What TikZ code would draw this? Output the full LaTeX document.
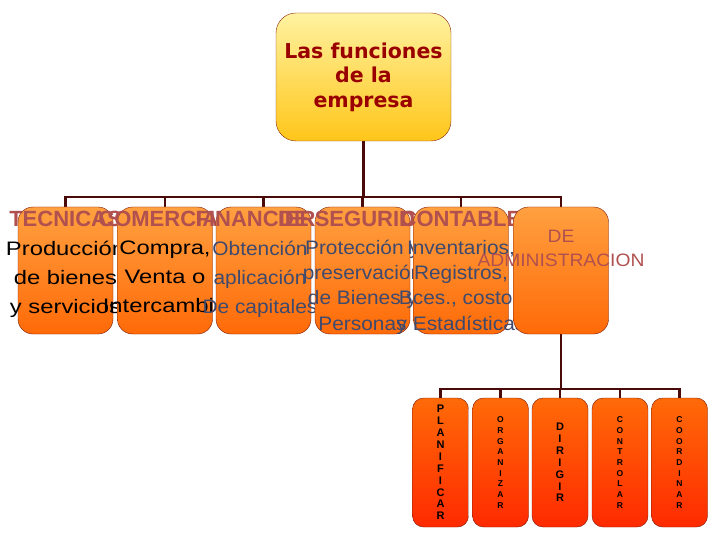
\documentclass[tikz,border=0pt]{standalone}
\usepackage{fontspec}
\setmainfont{Liberation Sans}
\setsansfont{Liberation Sans}
\newfontfamily\bodywide[FakeStretch=1.22]{Liberation Sans}
\newfontfamily\bodynarrow[FakeStretch=1.07]{Liberation Sans}
\newfontfamily\titlefont{DejaVu Sans}
\usetikzlibrary{backgrounds}
\definecolor{efline}{HTML}{4A0A0A}
\definecolor{efmaroon}{HTML}{7A1A0A}
\definecolor{efbrown}{HTML}{8B2A10}
\definecolor{efyellow}{HTML}{FFC61A}
\definecolor{efyellowL}{HTML}{FFF2A0}
\definecolor{eforange}{HTML}{FF6A08}
\definecolor{eforangeL}{HTML}{FFA040}
\definecolor{efred}{HTML}{FF2A00}
\definecolor{eftitle}{HTML}{990000}
\definecolor{efrose}{HTML}{B0504F}
\definecolor{efslate}{HTML}{3E4A6E}

\begin{document}
\begin{tikzpicture}[x=1pt, y=-1pt,
      font=\sffamily,
      topbox/.style={draw=efbrown, thin, rounded corners=20pt, minimum width=175pt,
                     minimum height=128pt, top color=efyellowL, bottom color=efyellow,
                     align=center, text=eftitle, font=\titlefont\fontsize{20.5}{24.5}\selectfont\bfseries},
      fbox/.style={draw=efmaroon, thin, rounded corners=15pt, minimum width=95pt,
                   minimum height=127pt, top color=eforangeL, bottom color=eforange, inner sep=0pt},
      abox/.style={draw=efmaroon, thin, rounded corners=11pt, minimum width=56pt,
                   minimum height=129pt, top color=eforange, bottom color=efred,
                   align=center, inner sep=0pt},
      bigltr/.style={abox, font=\fontsize{11}{11.9}\selectfont\bfseries},
      smallltr/.style={abox, font=\fontsize{8.5}{10.7}\selectfont\bfseries},
      headlbl/.style={anchor=base, inner sep=0pt, text=efrose, font=\fontsize{22}{24}\selectfont\bfseries},
      bodytxt/.style={anchor=north, inner sep=0pt, align=center},
      widebody/.style={bodytxt, font=\bodywide\fontsize{19.5}{29}\selectfont},
      slatebody/.style={bodytxt, text=efslate, font=\bodynarrow\fontsize{19.5}{29}\selectfont},
      tightbody/.style={bodytxt, text=efslate, font=\bodynarrow\fontsize{19.5}{25.3}\selectfont},
      conn/.style={draw=efline, line width=2.6pt}
    ]
    \useasboundingbox (0,0) rectangle (720,540);
    % ------------- top -------------
    \node[topbox] (funcs) at (363.5,77) {Las funciones\\de la\\empresa};
    % ------------- functions -------------
    \node[fbox] (tec) at (65.5,270.5) {};
    \node[headlbl] (tecH) at (65.5,226) {TECNICAS};
    \node[widebody] (tecT) at (65.5,240.5) {Producción\\de bienes\\y servicios};
    \node[fbox] (com) at (165,270.5) {};
    \node[headlbl] (comH) at (165,226) {COMERCIAL};
    \node[widebody] (comT) at (165,240.5) {Compra,\\Venta o\\Intercambio};
    \node[fbox] (fin) at (263.5,270.5) {};
    \node[headlbl] (finH) at (263.5,226) {FINANCIERA};
    \node[slatebody] (finT) at (260,240.5) {Obtención\\aplicación\\De capitales};
    \node[fbox] (seg) at (362.5,270.5) {};
    \node[headlbl] (segH) at (362.5,226) {DE SEGURIDAD};
    \node[tightbody] (segT) at (362.5,239.7) {Protección y\\preservación\\de Bienes y\\Personas};
    \node[fbox] (cont) at (461,270.5) {};
    \node[headlbl] (contH) at (461,226) {CONTABLE};
    \node[tightbody] (contT) at (461,240) {Inventarios,\\Registros,\\Bces., costos\\y Estadísticas};
    \node[fbox] (adm) at (561,270.5) {};
    \node[bodytxt, text=efrose, font=\bodynarrow\fontsize{18}{24}\selectfont] (admT) at (561,230) {DE\\ADMINISTRACION};
    % ------------- administration -------------
    \node[bigltr] (plan) at (440.5,462.5) {P\\L\\A\\N\\I\\F\\I\\C\\A\\R};
    \node[smallltr] (org) at (500.5,462.5) {O\\R\\G\\A\\N\\I\\Z\\A\\R};
    \node[bigltr] (dir) at (560,462.5) {D\\I\\R\\I\\G\\I\\R};
    \node[smallltr] (ctrl) at (620,462.5) {C\\O\\N\\T\\R\\O\\L\\A\\R};
    \node[smallltr] (coord) at (679.5,462.5) {C\\O\\O\\R\\D\\I\\N\\A\\R};
    % ------------- connectors -------------
    \begin{scope}[on background layer]
      \coordinate (bus1) at (363.5,197);
      \draw[conn] (funcs.south) -- (bus1);
      \draw[conn] (bus1) -| (tec.north);
      \draw[conn] (bus1) -| (com.north);
      \draw[conn] (bus1) -| (fin.north);
      \draw[conn] (bus1) -| (seg.north);
      \draw[conn] (bus1) -| (cont.north);
      \draw[conn] (bus1) -| (adm.north);
      \coordinate (bus2) at (561,389);
      \draw[conn] (adm.south) -- (bus2);
      \draw[conn] (bus2) -| (plan.north);
      \draw[conn] (bus2) -| (org.north);
      \draw[conn] (bus2) -| (dir.north);
      \draw[conn] (bus2) -| (ctrl.north);
      \draw[conn] (bus2) -| (coord.north);
    \end{scope}
  \end{tikzpicture}
\end{document}
